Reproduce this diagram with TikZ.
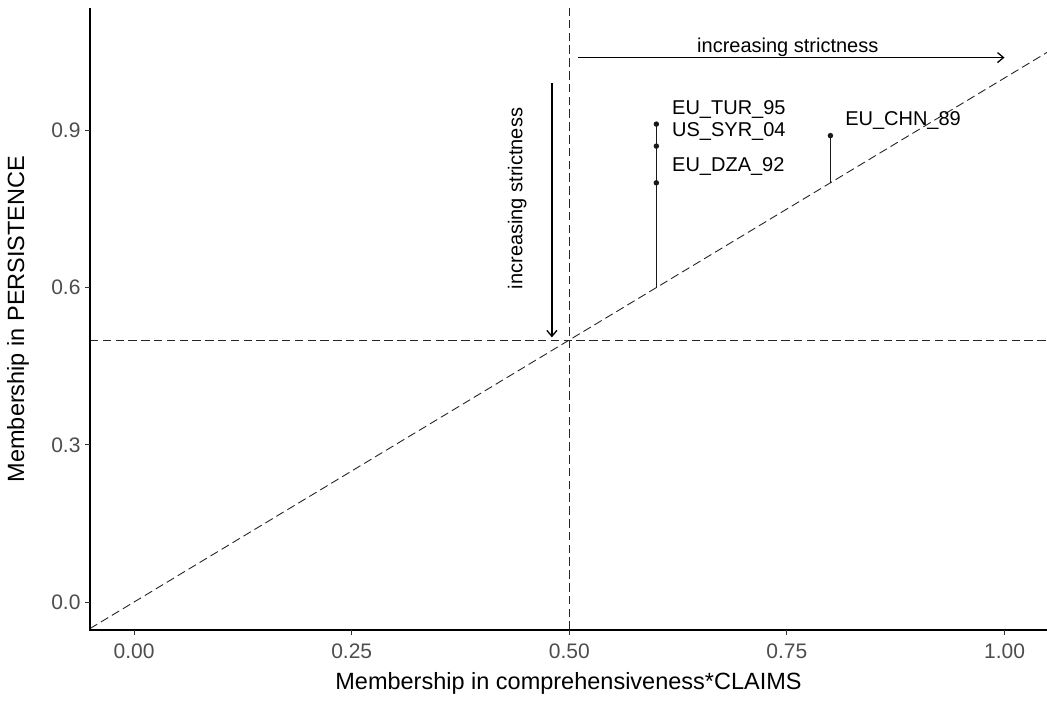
\documentclass[tikz,border=0pt]{standalone}
\usepackage{fontspec}
\setmainfont{Liberation Sans}
\usetikzlibrary{arrows.meta}
\definecolor{ticktext}{HTML}{4D4D4D}
\definecolor{tickline}{HTML}{333333}
\tikzset{
 axisline/.style={line width=1.1pt, black},
 refline/.style={line width=0.9pt, dash pattern=on 8.5pt off 4.3pt, black!85},
 tickmark/.style={line width=0.9pt, tickline},
 ticklabel/.style={font=\fontsize{21}{21}\selectfont, text=ticktext, inner sep=0pt},
 axtitle/.style={font=\fontsize{23.5}{23.5}\selectfont, inner sep=0pt},
 ptlabel/.style={font=\fontsize{20}{20}\selectfont, inner sep=0pt, anchor=west},
 dot/.style={circle, fill=black!90, inner sep=0pt, minimum size=5.5pt},
 seg/.style={line width=1.3pt, black!90},
 annarrow/.style={line width=1.3pt, -{Straight Barb[length=6pt,width=10pt]}},
 anntext/.style={font=\fontsize{20}{20}\selectfont, inner sep=0pt}
}
\begin{document}
\begin{tikzpicture}[x=1pt,y=1pt]
\useasboundingbox (0,0) rectangle (1047,-703);
\begin{scope}[shift={(134.1,-602)}, x=870.4pt, y=524pt]
 % corners
 \coordinate (ll) at (-0.0507,-0.0534);
 \coordinate (ul) at (-0.0507,1.1336);
 \coordinate (lr) at (1.049,-0.0534);
 % reference lines
 \coordinate (d0) at (-0.0507,-0.0507);
 \coordinate (d1) at (1.049,1.049);
 \draw[refline] (d0) -- (d1);
 \coordinate (v0) at (0.5,-0.0534);
 \coordinate (v1) at (0.5,1.1336);
 \draw[refline] (v0) -- (v1);
 \coordinate (h0) at (-0.0507,0.5);
 \coordinate (h1) at (1.049,0.5);
 \draw[refline] (h0) -- (h1);
 % axes
 \draw[axisline] (ul) -- (ll) -- (lr);
 % x ticks
 \foreach \i/\v/\t in {a/0/0.00,b/0.25/0.25,c/0.5/0.50,d/0.75/0.75,e/1/1.00}{
   \coordinate (xt\i) at (\v,-0.0534);
   \draw[tickmark] (xt\i) -- ++(0,-5pt);
   \node[ticklabel] (xl\i) at ([yshift=-21.7pt]xt\i) {\t};
 }
 % y ticks
 \foreach \i/\v/\t in {a/0/0.0,b/0.3/0.3,c/0.6/0.6,d/0.9/0.9}{
   \coordinate (yt\i) at (-0.0507,\v);
   \draw[tickmark] (yt\i) -- ++(-5pt,0);
   \node[ticklabel, anchor=east] (yl\i) at ([xshift=-9.3pt]yt\i) {\t};
 }
 % segments and points
 \coordinate (b6) at (0.6,0.6);
 \coordinate (b8) at (0.8,0.8);
 \node[dot] (ptur) at (0.6,0.912) {};
 \node[dot] (psyr) at (0.6,0.870) {};
 \node[dot] (pdza) at (0.6,0.800) {};
 \node[dot] (pchn) at (0.8,0.890) {};
 \draw[seg] (b6) -- (ptur.center);
 \draw[seg] (b6) -- (psyr.center);
 \draw[seg] (b6) -- (pdza.center);
 \draw[seg] (b8) -- (pchn.center);
 \node[ptlabel] (ltur) at (0.618,0.939) {EU\_TUR\_95};
 \node[ptlabel] (lsyr) at (0.618,0.8975) {US\_SYR\_04};
 \node[ptlabel] (ldza) at (0.618,0.831) {EU\_DZA\_92};
 \node[ptlabel] (lchn) at (0.8168,0.9185) {EU\_CHN\_89};
 % annotation arrows
 \coordinate (ha0) at (0.51,1.039);
 \coordinate (ha1) at (1.0,1.039);
 \draw[annarrow] (ha0) -- (ha1);
 \node[anntext] (hat) at (0.751,1.059) {increasing strictness};
 \coordinate (va0) at (0.48,0.99);
 \coordinate (va1) at (0.48,0.505);
 \draw[annarrow] (va0) -- (va1);
 \node[anntext, rotate=90] (vat) at (0.44,0.77) {increasing strictness};
\end{scope}
\node[axtitle] (xtitle) at (568.5,-683) {Membership in comprehensiveness*CLAIMS};
\node[axtitle, rotate=90] (ytitle) at (18,-319) {Membership in PERSISTENCE};
\end{tikzpicture}
\end{document}
